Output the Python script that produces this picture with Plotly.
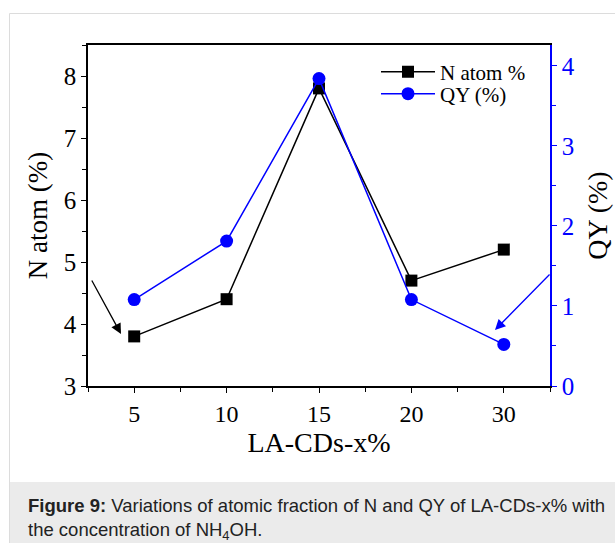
import plotly.graph_objects as go

categories = ["5", "10", "15", "20", "30"]
n_atom = [3.8, 4.4, 7.8, 4.7, 5.2]
qy = [1.08, 1.81, 3.84, 1.08, 0.52]

x_pos = list(range(len(categories)))

# figure geometry (pixels)
W, H = 615, 543
L, R, T, B = 88, 65, 45, 157
PW, PH = W - L - R, H - T - B


def px(x):
    return (x - L) / PW


def py(y):
    return (H - B - y) / PH


serif = "Liberation Serif"
sans = "Liberation Sans"

fig = go.Figure()
fig.add_trace(go.Scatter(
    x=x_pos, y=n_atom, name="N atom %", mode="lines+markers",
    line=dict(color="black", width=1.5),
    marker=dict(symbol="square", size=12, color="black"),
    yaxis="y", legend="legend",
))
fig.add_trace(go.Scatter(
    x=x_pos, y=qy, name="QY (%)", mode="lines+markers",
    line=dict(color="#0000ff", width=1.5),
    marker=dict(symbol="circle", size=13, color="#0000ff"),
    yaxis="y2", legend="legend2",
))

legend_common = dict(
    xanchor="left", yanchor="middle",
    bgcolor="rgba(0,0,0,0)", borderwidth=0,
    font=dict(family=serif, size=21, color="black"),
    itemwidth=54,
)

fig.update_layout(
    width=W, height=H,
    margin=dict(l=L, r=R, t=T, b=B, pad=0, autoexpand=False),
    paper_bgcolor="white", plot_bgcolor="white",
    showlegend=True,
    legend=dict(x=px(376), y=py(72), **legend_common),
    legend2=dict(x=px(376), y=py(94), **legend_common),
    xaxis=dict(
        range=[-0.5, 4.5], automargin=False,
        tickmode="array", tickvals=x_pos, ticktext=categories,
        ticks="outside", ticklen=5, tickwidth=1.2, tickcolor="black",
        minor=dict(tickmode="linear", tick0=-0.5, dtick=0.5, ticks="outside",
                   ticklen=4, tickwidth=1.2, tickcolor="black"),
        showline=True, linecolor="black", linewidth=1.5, mirror=True,
        showgrid=False, zeroline=False,
        tickfont=dict(family=serif, size=24, color="black"),
        title=dict(text="LA-CDs-x%", font=dict(family=serif, size=28, color="black"), standoff=2),
    ),
    yaxis=dict(
        range=[3, 8.5], dtick=1, tick0=3, automargin=False,
        ticks="outside", ticklen=5, tickwidth=1.2, tickcolor="black",
        minor=dict(tick0=3, dtick=0.5, ticks="outside", ticklen=4,
                   tickwidth=1.2, tickcolor="black"),
        showline=True, linecolor="black", linewidth=1.5,
        showgrid=False, zeroline=False,
        tickfont=dict(family=serif, size=25, color="black"),
        title=dict(text="N atom (%)", font=dict(family=serif, size=27, color="black"), standoff=8),
    ),
    yaxis2=dict(
        overlaying="y", side="right", anchor="x", automargin=False,
        range=[0, 4.26], dtick=1, tick0=0,
        ticks="outside", ticklen=5, tickwidth=1.2, tickcolor="#0000ff",
        minor=dict(tick0=0, dtick=0.5, ticks="outside", ticklen=4,
                   tickwidth=1.2, tickcolor="#0000ff"),
        showline=True, linecolor="#0000ff", linewidth=1.5,
        showgrid=False, zeroline=False,
        tickfont=dict(family=serif, size=25, color="#0000ff"),
        title=dict(text="QY (%)", font=dict(family=serif, size=28, color="black"), standoff=14),
    ),
)

# page frame and caption background
fig.add_shape(type="rect", xref="paper", yref="paper",
              x0=px(9.5), x1=px(616), y0=py(544), y1=py(482),
              fillcolor="#ebebeb", line=dict(width=0), layer="below")
fig.add_shape(type="line", xref="paper", yref="paper",
              x0=px(9.5), x1=px(616), y0=py(13.5), y1=py(13.5),
              line=dict(color="#dcdcdc", width=1), layer="below")
fig.add_shape(type="line", xref="paper", yref="paper",
              x0=px(9.5), x1=px(9.5), y0=py(13.5), y1=py(544),
              line=dict(color="#dcdcdc", width=1), layer="below")

# arrows
fig.add_annotation(xref="paper", yref="paper", x=px(121), y=py(334),
                   ax=91 - 121, ay=279 - 334, text="", showarrow=True,
                   arrowhead=2, arrowsize=1.6, arrowwidth=1.3, arrowcolor="black")
fig.add_annotation(xref="paper", yref="paper", x=px(495), y=py(330),
                   ax=551 - 495, ay=273 - 330, text="", showarrow=True,
                   arrowhead=2, arrowsize=1.6, arrowwidth=1.3, arrowcolor="#0000ff")

# caption
fig.add_annotation(xref="paper", yref="paper", x=px(26), y=py(505),
                   xanchor="left", yanchor="middle", showarrow=False,
                   text="<b>Figure 9:</b> Variations of atomic fraction of N and QY of LA-CDs-x% with",
                   font=dict(family=sans, size=18.5, color="#222222"))
fig.add_annotation(xref="paper", yref="paper", x=px(26), y=py(531),
                   xanchor="left", yanchor="middle", showarrow=False,
                   text="the concentration of NH<sub>4</sub>OH.",
                   font=dict(family=sans, size=18.5, color="#222222"))

fig.write_html("out.html")
